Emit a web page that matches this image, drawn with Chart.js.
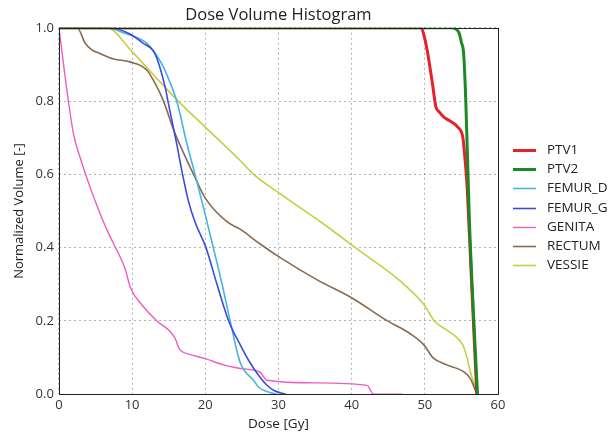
<!DOCTYPE html>
<html>
<head>
<meta charset="utf-8">
<script src="https://cdn.jsdelivr.net/npm/chart.js@4.4.1/dist/chart.umd.min.js"></script>
<style>
  html, body { margin:0; padding:0; background:#fff; }
  #wrap { width:609px; height:432px; }
</style>
</head>
<body>
<div id="wrap"><canvas id="dvh" width="609" height="432"></canvas></div>
<script>
// DVH curves: dose in Gy, normalized volume 0..1
const ptv1Dose = [0, 49.5, 50.0, 50.4, 51.1, 51.5, 52.0, 52.6, 53.5, 54.5, 55.2, 55.5, 55.8, 56.4, 57.1];
const ptv1Vol  = [1.0, 1.0, 0.97, 0.93, 0.84, 0.785, 0.77, 0.756, 0.745, 0.729, 0.70, 0.64, 0.56, 0.30, 0.0];

const ptv2Dose = [0, 53.6, 54.2, 54.7, 55.0, 55.3, 55.6, 56.1, 56.7, 57.2];
const ptv2Vol  = [1.0, 1.0, 0.997, 0.985, 0.96, 0.93, 0.80, 0.47, 0.2, 0.0];

const femurDDose = [0, 6.5, 9.0, 12.0, 14.1, 15.2, 16.1, 17.5, 18.6, 20.0, 21.1, 22.3, 23.4, 24.8, 26.6, 27.3, 28.5, 29.8];
const femurDVol  = [1.0, 1.0, 0.985, 0.958, 0.90, 0.85, 0.80, 0.683, 0.6, 0.49, 0.4, 0.3, 0.2, 0.085, 0.038, 0.019, 0.007, 0.0];

const femurGDose = [0, 7.0, 9.5, 11.5, 13.1, 14.5, 14.9, 16.1, 16.9, 17.7, 18.6, 20.1, 21.6, 23.2, 24.8, 26.0, 27.3, 28.4, 29.4, 31.0];
const femurGVol  = [1.0, 1.0, 0.985, 0.958, 0.93, 0.84, 0.8, 0.683, 0.6, 0.527, 0.47, 0.4, 0.3, 0.2, 0.134, 0.09, 0.051, 0.025, 0.01, 0.0];

const genitaDose = [0, 1.3, 2.0, 3.0, 4.0, 5.0, 6.0, 7.0, 8.0, 9.0, 9.8, 11.5, 13.4, 15.9, 16.3, 16.6, 18.0, 20.0, 22.5, 24.8, 27.5, 28.4, 35.0, 42.1, 43.0, 47.0];
const genitaVol  = [1.0, 0.8, 0.71, 0.64, 0.58, 0.525, 0.475, 0.43, 0.39, 0.345, 0.29, 0.24, 0.2, 0.152, 0.13, 0.12, 0.108, 0.097, 0.08, 0.07, 0.06, 0.038, 0.031, 0.024, 0.0, 0.0];

const rectumDose = [0, 2.5, 3.6, 4.5, 5.6, 7.5, 9.7, 12.0, 13.4, 14.3, 15.7, 17.0, 18.4, 20.0, 23.0, 24.8, 27.5, 30.3, 35.3, 40.1, 44.9, 48.0, 49.9, 51.1, 53.0, 55.4, 56.3, 56.8, 57.2];
const rectumVol  = [1.0, 1.0, 0.958, 0.94, 0.93, 0.915, 0.907, 0.885, 0.839, 0.8, 0.72, 0.66, 0.6, 0.535, 0.47, 0.45, 0.41, 0.372, 0.312, 0.262, 0.2, 0.165, 0.134, 0.10, 0.08, 0.06, 0.04, 0.015, 0.0];

const vessieDose = [0, 6.5, 10, 13, 16.3, 20, 24.8, 26.6, 30.3, 35.8, 40.5, 46.7, 49.9, 51.3, 53, 54, 55.2, 55.7, 56.1, 56.7, 57.2];
const vessieVol  = [1.0, 1.0, 0.935, 0.87, 0.8, 0.729, 0.637, 0.6, 0.546, 0.47, 0.4, 0.308, 0.244, 0.2, 0.175, 0.161, 0.134, 0.105, 0.07, 0.03, 0.0];

const xTicks = [0, 10, 20, 30, 40, 50, 60];
const yTicks = [0.0, 0.2, 0.4, 0.6, 0.8, 1.0];

const FONT = '"Open Sans", "DejaVu Sans", sans-serif';

const pts = (xs, ys) => xs.map((x, i) => ({x: x, y: ys[i]}));

const series = [
  {label:'PTV1',    data:pts(ptv1Dose, ptv1Vol),     color:'#e3222b', w:3,   order:1},
  {label:'PTV2',    data:pts(ptv2Dose, ptv2Vol),     color:'#1b8a22', w:3,   order:0},
  {label:'FEMUR_D', data:pts(femurDDose, femurDVol), color:'#46b4e0', w:1.6, order:3},
  {label:'FEMUR_G', data:pts(femurGDose, femurGVol), color:'#3b4be0', w:1.6, order:2},
  {label:'GENITA',  data:pts(genitaDose, genitaVol), color:'#ee5cc0', w:1.4, order:4},
  {label:'RECTUM',  data:pts(rectumDose, rectumVol), color:'#8a6a50', w:1.6, order:5},
  {label:'VESSIE',  data:pts(vessieDose, vessieVol), color:'#c5cf45', w:1.6, order:6}
];

// black frame round the plot area, like the matplotlib axes box
const frame = {
  id:'frame',
  afterDatasetsDraw(chart){
    const a = chart.chartArea, c = chart.ctx;
    c.save();
    c.strokeStyle = '#222';
    c.lineWidth = 1;
    c.strokeRect(Math.round(a.left)+0.5, Math.round(a.top)+0.5, Math.round(a.right-a.left), Math.round(a.bottom-a.top));
    c.restore();
  }
};

// legend outside the axes on the right, built from the datasets
const sideLegend = {
  id:'sideLegend',
  afterDraw(chart){
    const c = chart.ctx, a = chart.chartArea;
    const x0 = a.right + 15, y0 = 150, step = 19.2;
    c.save();
    c.font = '13.5px ' + FONT;
    c.textBaseline = 'middle';
    chart.data.datasets.forEach((ds, i)=>{
      const y = Math.round(y0 + i*step) + 0.5;
      c.strokeStyle = ds.borderColor;
      c.lineWidth = ds.borderWidth;
      c.beginPath(); c.moveTo(x0, y); c.lineTo(x0 + 23, y); c.stroke();
      c.fillStyle = '#222';
      c.fillText(ds.label, x0 + 34, y);
    });
    c.restore();
  }
};

new Chart(document.getElementById('dvh'), {
  type:'line',
  data:{
    datasets: series.map(s=>({
      label:s.label, data:s.data,
      borderColor:s.color, backgroundColor:s.color,
      borderWidth:s.w, pointRadius:0, fill:false,
      cubicInterpolationMode:'monotone', order:s.order
    }))
  },
  options:{
    responsive:false, animation:false,
    layout:{ padding:{ left:11, right:111, top:2, bottom:0 } },
    plugins:{
      title:{ display:true, fullSize:false, text:'Dose Volume Histogram', color:'#222',
        font:{ family:FONT, size:16.5, weight:'normal' }, padding:{ top:3, bottom:3 } },
      legend:{ display:false },
      tooltip:{ enabled:false }
    },
    scales:{
      x:{ type:'linear', min:0, max:60,
        afterBuildTicks: ax => { ax.ticks = xTicks.map(v=>({value:v})); },
        ticks:{ color:'#333', font:{ family:FONT, size:13 }, padding:3, maxRotation:0 },
        grid:{ color:'rgba(0,0,0,0.3)', drawTicks:false },
        border:{ display:false, dash:[2,3] },
        title:{ display:true, text:'Dose [Gy]', color:'#222', font:{ family:FONT, size:13.5 }, padding:{ top:0, bottom:0 } }
      },
      y:{ type:'linear', min:0, max:1,
        afterBuildTicks: ax => { ax.ticks = yTicks.map(v=>({value:v})); },
        ticks:{ color:'#333', font:{ family:FONT, size:13 }, padding:5, callback:v=>Number(v).toFixed(1) },
        grid:{ color:'rgba(0,0,0,0.3)', drawTicks:false },
        border:{ display:false, dash:[2,3] },
        title:{ display:true, text:'Normalized Volume [-]', color:'#222', font:{ family:FONT, size:13 }, padding:{ top:0, bottom:4 } }
      }
    }
  },
  plugins:[frame, sideLegend]
});
</script>
</body>
</html>
